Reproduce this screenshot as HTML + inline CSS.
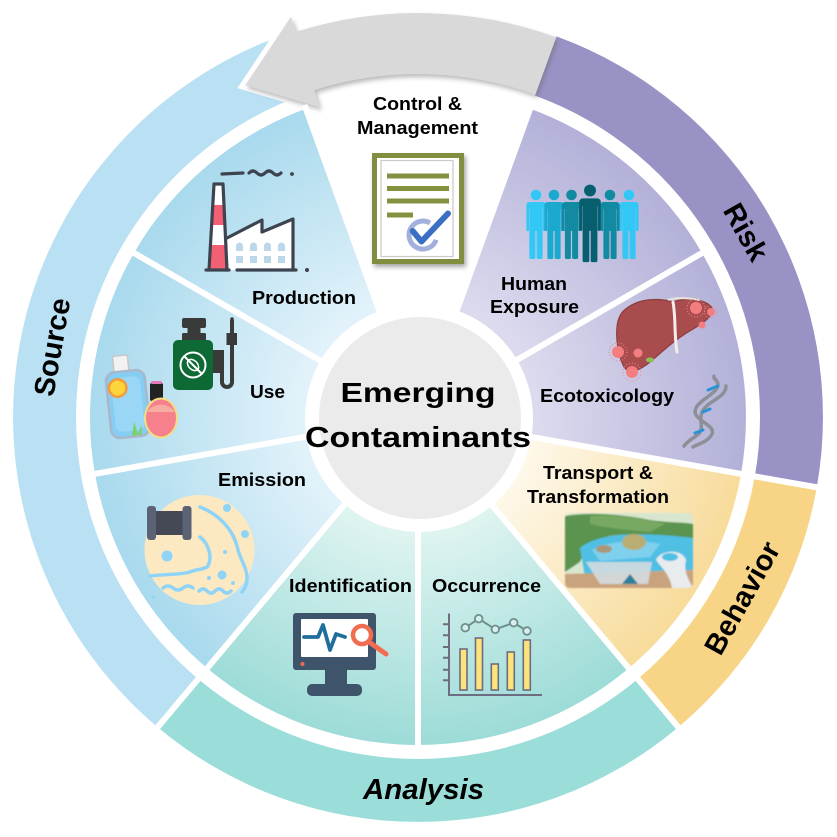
<!DOCTYPE html>
<html><head><meta charset="utf-8">
<style>
html,body{margin:0;padding:0;background:#fff;}
svg{display:block;}
text{font-family:"Liberation Sans",Arial,sans-serif;font-weight:bold;fill:#000;}
</style></head><body>
<svg width="837" height="837" viewBox="0 0 837 837" xmlns="http://www.w3.org/2000/svg">
<defs>
 <radialGradient id="gB" gradientUnits="userSpaceOnUse" cx="418" cy="417" r="330">
  <stop offset="0.35" stop-color="#e2f2fa"/><stop offset="1" stop-color="#a8d9ed"/>
 </radialGradient>
 <radialGradient id="gP" gradientUnits="userSpaceOnUse" cx="418" cy="417" r="330">
  <stop offset="0.35" stop-color="#dcdbee"/><stop offset="1" stop-color="#b2b0d8"/>
 </radialGradient>
 <radialGradient id="gY" gradientUnits="userSpaceOnUse" cx="418" cy="417" r="330">
  <stop offset="0.35" stop-color="#fef8ea"/><stop offset="1" stop-color="#f7db9a"/>
 </radialGradient>
 <radialGradient id="gT" gradientUnits="userSpaceOnUse" cx="418" cy="417" r="330">
  <stop offset="0.35" stop-color="#dff4f1"/><stop offset="1" stop-color="#9cdbd7"/>
 </radialGradient>
 <filter id="blur2" x="-20%" y="-20%" width="140%" height="140%"><feGaussianBlur stdDeviation="2.5"/></filter>
 <filter id="soft" x="-10%" y="-10%" width="120%" height="120%"><feGaussianBlur stdDeviation="0.9"/></filter>
 <clipPath id="tc"><rect x="565" y="513" width="128" height="75" rx="5"/></clipPath>
 <g id="pp">
  <circle cx="0" cy="0" r="5.3"/>
  <rect x="-9.6" y="7" width="19.2" height="7" rx="3.2"/>
  <rect x="-6.6" y="8" width="13.2" height="28"/>
  <rect x="-9.6" y="9" width="2.7" height="27" rx="1.3"/>
  <rect x="6.9" y="9" width="2.7" height="27" rx="1.3"/>
  <rect x="-6.6" y="33" width="6" height="31" rx="1.5"/>
  <rect x="0.6" y="33" width="6" height="31" rx="1.5"/>
 </g>
</defs>

<!-- outer ring: Source -->
<path d="M157.7,727.2 A405,405 0 0 1 313.2,25.8 L329.5,86.7 A342,342 0 0 0 198.2,679.0 Z" fill="#b9e0f3"/>

<!-- arrow white outline -->
<path d="M556.2,37.4 A404,404 0 0 0 295.8,31.9 L291.0,16.7 L245.3,85.3 L319.7,107.2 L314.3,90.1 A343,343 0 0 1 535.3,94.7 Z" fill="#fff" stroke="#fff" stroke-width="10" stroke-linejoin="miter"/>

<!-- Risk, Behavior, Analysis -->
<path d="M556.5,36.4 A405,405 0 0 1 816.8,487.3 L754.8,476.4 A342,342 0 0 0 535.0,95.6 Z" fill="#9993c5"/>
<path d="M816.8,487.3 A405,405 0 0 1 678.3,727.2 L637.8,679.0 A342,342 0 0 0 754.8,476.4 Z" fill="#f8d486"/>
<path d="M678.3,727.2 A405,405 0 0 1 157.7,727.2 L198.2,679.0 A342,342 0 0 0 637.8,679.0 Z" fill="#9bddd9"/>
<g stroke="#fff" stroke-width="6">
 <line x1="747.9" y1="475.2" x2="823.7" y2="488.5"/>
 <line x1="633.3" y1="673.6" x2="682.8" y2="732.6"/>
 <line x1="202.7" y1="673.6" x2="153.2" y2="732.6"/>
</g>

<!-- arrow shadow + fill -->
<path d="M556.2,37.4 A404,404 0 0 0 295.8,31.9 L291.0,16.7 L245.3,85.3 L319.7,107.2 L314.3,90.1 A343,343 0 0 1 535.3,94.7 Z" fill="#666" opacity="0.45" transform="translate(2,3)" filter="url(#blur2)"/>
<path d="M556.2,37.4 A404,404 0 0 0 295.8,31.9 L291.0,16.7 L245.3,85.3 L319.7,107.2 L314.3,90.1 A343,343 0 0 1 535.3,94.7 Z" fill="#d9d9d9"/>

<!-- inner sectors -->
<path d="M418,417 L530.2,108.8 A328,328 0 0 1 702.0,253.0 Z" fill="url(#gP)"/>
<path d="M418,417 L702.0,253.0 A328,328 0 0 1 741.0,473.9 Z" fill="url(#gP)"/>
<path d="M418,417 L741.0,473.9 A328,328 0 0 1 628.8,668.2 Z" fill="url(#gY)"/>
<path d="M418,417 L628.8,668.2 A328,328 0 0 1 418,745 Z" fill="url(#gT)"/>
<path d="M418,417 L418,745 A328,328 0 0 1 207.2,668.2 Z" fill="url(#gT)"/>
<path d="M418,417 L207.2,668.2 A328,328 0 0 1 95.0,473.9 Z" fill="url(#gB)"/>
<path d="M418,417 L95.0,473.9 A328,328 0 0 1 134.0,253.0 Z" fill="url(#gB)"/>
<path d="M418,417 L134.0,253.0 A328,328 0 0 1 305.8,108.8 Z" fill="url(#gB)"/>
<g stroke="#fff" stroke-width="6">
 <line x1="418" y1="417" x2="531.5" y2="105"/>
 <line x1="418" y1="417" x2="705.5" y2="251"/>
 <line x1="418" y1="417" x2="745.0" y2="474.6"/>
 <line x1="418" y1="417" x2="631.4" y2="671.3"/>
 <line x1="418" y1="417" x2="418" y2="749"/>
 <line x1="418" y1="417" x2="204.6" y2="671.3"/>
 <line x1="418" y1="417" x2="91.0" y2="474.6"/>
 <line x1="418" y1="417" x2="130.5" y2="251"/>
 <line x1="418" y1="417" x2="304.5" y2="105"/>
</g>

<!-- center -->
<circle cx="419" cy="418" r="114" fill="#fff"/>
<circle cx="420" cy="418" r="101" fill="#ebebeb"/>
<text x="418" y="402" font-size="28" text-anchor="middle" textLength="155" lengthAdjust="spacingAndGlyphs">Emerging</text>
<text x="418" y="447" font-size="29" text-anchor="middle" textLength="226" lengthAdjust="spacingAndGlyphs">Contaminants</text>

<!-- ring labels -->
<text transform="translate(52,347) rotate(-80)" x="0" y="10" font-size="29" text-anchor="middle" textLength="99" lengthAdjust="spacingAndGlyphs">Source</text>
<text transform="translate(746,232) rotate(60.6)" x="0" y="10" font-size="29" text-anchor="middle" textLength="61" lengthAdjust="spacingAndGlyphs">Risk</text>
<text transform="translate(742,598) rotate(-60.8)" x="0" y="10" font-size="29" text-anchor="middle" textLength="124" lengthAdjust="spacingAndGlyphs">Behavior</text>
<text x="423.5" y="799" font-size="29" font-style="italic" text-anchor="middle" textLength="121" lengthAdjust="spacingAndGlyphs">Analysis</text>

<!-- inner labels -->
<g font-size="18.5" text-anchor="middle">
 <text x="417.5" y="110" textLength="89" lengthAdjust="spacingAndGlyphs">Control &amp;</text>
 <text x="417.5" y="134" textLength="121" lengthAdjust="spacingAndGlyphs">Management</text>
 <text x="534" y="290" textLength="66" lengthAdjust="spacingAndGlyphs">Human</text>
 <text x="534.5" y="313" textLength="89" lengthAdjust="spacingAndGlyphs">Exposure</text>
 <text x="607" y="402" textLength="134" lengthAdjust="spacingAndGlyphs">Ecotoxicology</text>
 <text x="598" y="479" textLength="110" lengthAdjust="spacingAndGlyphs">Transport &amp;</text>
 <text x="598" y="503" textLength="142" lengthAdjust="spacingAndGlyphs">Transformation</text>
 <text x="486.5" y="592" textLength="109" lengthAdjust="spacingAndGlyphs">Occurrence</text>
 <text x="350.5" y="592" textLength="123" lengthAdjust="spacingAndGlyphs">Identification</text>
 <text x="262" y="486" textLength="88" lengthAdjust="spacingAndGlyphs">Emission</text>
 <text x="267.5" y="398" textLength="35" lengthAdjust="spacingAndGlyphs">Use</text>
 <text x="304" y="304" textLength="104" lengthAdjust="spacingAndGlyphs">Production</text>
</g>

<!-- Control document icon -->
<rect x="374" y="156" width="92" height="111" fill="#000" opacity=".35" filter="url(#blur2)"/>
<rect x="372" y="153" width="92" height="111" fill="#818d3f"/>
<rect x="377" y="158" width="82" height="101" fill="#fff"/>
<rect x="381" y="160.5" width="72" height="96" fill="#fff" stroke="#c9c9c9" stroke-width="1.2"/>
<g fill="#86913f">
 <rect x="387" y="173.5" width="62" height="5"/>
 <rect x="387" y="186" width="62" height="5"/>
 <rect x="387" y="198.5" width="62" height="5"/>
 <rect x="387" y="212.5" width="26" height="5"/>
</g>
<path d="M430,222.9 A14,14 0 1 0 436.2,239.8" fill="none" stroke="#a3b0de" stroke-width="5"/>
<polyline points="412.7,231 421.5,241.5 448,213.5" fill="none" stroke="#3b6fc4" stroke-width="6" stroke-linejoin="round" stroke-linecap="round"/>

<!-- Factory icon -->
<g stroke="#3d4450" stroke-width="3.2" fill="none" stroke-linecap="round" stroke-linejoin="round">
 <path d="M222,174 L243,173"/>
 <path d="M249,173 q4,-4 8,0 t8,0 t8,0 t8,0"/>
</g>
<circle cx="292" cy="174" r="1.9" fill="#3d4450"/>
<path d="M226,238 L262,220 L262,232 L293,219 L293,270 L226,270 Z" fill="#fff"/>
<path d="M214,184 L223,184 L227,270 L209,270 Z" fill="#fff"/>
<polygon points="212.8,205 224.0,205 224.9,225 211.6,225" fill="#f35f73"/>
<polygon points="210.5,245 225.8,245 227,270 209,270" fill="#f35f73"/>
<g fill="#bcd6ea">
 <path d="M236,251 v-5 a3.5,3.5 0 0 1 7,0 v5 z"/>
 <path d="M250,251 v-5 a3.5,3.5 0 0 1 7,0 v5 z"/>
 <path d="M264,251 v-5 a3.5,3.5 0 0 1 7,0 v5 z"/>
 <path d="M278,251 v-5 a3.5,3.5 0 0 1 7,0 v5 z"/>
 <rect x="236" y="256" width="7" height="7"/>
 <rect x="250" y="256" width="7" height="7"/>
 <rect x="264" y="256" width="7" height="7"/>
 <rect x="278" y="256" width="7" height="7"/>
</g>
<g stroke="#3d4450" stroke-width="3.2" fill="none" stroke-linecap="round" stroke-linejoin="round">
 <path d="M214,184 L223,184 L227,270 M214,184 L209,270"/>
 <path d="M227,238 L262,220 L262,232 L293,219 L293,270"/>
 <path d="M206,270 L229,270 M237,270 L296,270"/>
</g>
<circle cx="307" cy="270" r="2" fill="#3d4450"/>

<!-- Use: spray bottle -->
<rect x="182" y="318" width="24" height="10" rx="2" fill="#3a3a3a"/>
<rect x="187.5" y="327" width="13" height="7" fill="#3a3a3a"/>
<rect x="182" y="333" width="24" height="8" rx="1.5" fill="#3a3a3a"/>
<rect x="173" y="340" width="40" height="50" rx="5" fill="#0d6a35"/>
<circle cx="193" cy="365" r="12.5" fill="none" stroke="#fff" stroke-width="2"/>
<line x1="184.5" y1="356.5" x2="201.5" y2="373.5" stroke="#fff" stroke-width="2"/>
<ellipse cx="193" cy="365" rx="4.5" ry="6.5" transform="rotate(-45 193 365)" fill="none" stroke="#fff" stroke-width="1.5"/>
<rect x="213" y="350" width="11" height="23" fill="#3a3a3a"/>
<path d="M222,372 v10 a5,5 0 0 0 10,0 v-38" fill="none" stroke="#3a3a3a" stroke-width="4"/>
<rect x="226.5" y="333" width="10.5" height="12" fill="#3a3a3a"/>
<rect x="230" y="320" width="4" height="14" fill="#3a3a3a"/>
<circle cx="232" cy="319" r="1.8" fill="#3a3a3a"/>

<!-- Use: sunscreen bottle -->
<g transform="rotate(-6 128 400)">
 <rect x="117" y="355" width="15" height="18" rx="2" fill="#f2f2f2" stroke="#c6c6c6" stroke-width="1.5"/>
 <rect x="108" y="371" width="39" height="66" rx="9" fill="#84cdf3" stroke="#a9b7ca" stroke-width="2.5"/>
 <rect x="113" y="377" width="29" height="54" rx="6" fill="#9ad7f6"/>
 <circle cx="119" cy="387" r="10" fill="#f59a3a"/>
 <circle cx="119" cy="387" r="7.5" fill="#fcd43b"/>
 <path d="M128,436 l4,-14 l2,13 l5,-9 l-1,10 z" fill="#7fcf6a"/>
</g>
<!-- perfume -->
<rect x="150" y="383" width="13" height="18" rx="2" fill="#222"/>
<rect x="151" y="381" width="11" height="3" rx="1.5" fill="#e57ab8"/>
<ellipse cx="161" cy="418" rx="16" ry="19.5" fill="#f6818d" stroke="#f1de84" stroke-width="2"/>
<path d="M147,412 a16,14 0 0 1 28,0 z" fill="#f9c9b0" opacity="0.6"/>

<!-- Human exposure figures -->
<use href="#pp" transform="translate(536,195)" fill="#33c7f5"/>
<use href="#pp" transform="translate(629,195)" fill="#33c7f5"/>
<use href="#pp" transform="translate(554,195)" fill="#1ba9cf"/>
<use href="#pp" transform="translate(571.5,195)" fill="#128ba2"/>
<use href="#pp" transform="translate(610,195)" fill="#128ba2"/>
<use href="#pp" transform="translate(590,190.5) scale(1.12)" fill="#075e6e"/>

<!-- Ecotox: liver -->
<path d="M627,308 C640,298 660,298 673,302 C686,297 706,299 712,308 C714,318 698,326 688,332 C672,342 662,352 650,362 C640,370 630,375 624,367 C616,352 615,328 619,318 C621,313 623,311 627,308 Z" fill="#a94c4e" stroke="#8f3c3e" stroke-width="1.2"/>
<path d="M673,302 C676,318 674,335 677,352" fill="none" stroke="#f3efe8" stroke-width="3" stroke-linecap="round"/>
<path d="M668,300 C676,297 690,298 700,300" fill="none" stroke="#e9e4dc" stroke-width="2"/>
<ellipse cx="650" cy="360" rx="4" ry="2.5" fill="#8fbf5a"/>
<g fill="#f47d80">
 <circle cx="618" cy="352" r="6"/>
 <circle cx="638" cy="353" r="4.5"/>
 <circle cx="632" cy="372" r="6"/>
 <circle cx="696" cy="308" r="6"/>
 <circle cx="711" cy="312" r="4"/>
 <circle cx="702" cy="325" r="3.5"/>
</g>
<g fill="none" stroke="#f08a8a" stroke-width="1" stroke-dasharray="1 2">
 <circle cx="618" cy="352" r="9"/>
 <circle cx="632" cy="372" r="9"/>
 <circle cx="696" cy="308" r="9"/>
 <circle cx="711" cy="312" r="6.5"/>
</g>
<!-- DNA -->
<g fill="none" stroke-linecap="round">
 <path d="M714,378 C728,390 700,398 696,408 C690,420 716,424 712,434 C708,442 698,444 693,447" stroke="#8c9096" stroke-width="3.5"/>
 <path d="M726,386 C726,398 708,400 702,412 C698,422 706,430 696,436 C690,440 686,443 684,446" stroke="#8c9096" stroke-width="3.5"/>
 <path d="M708,390 L718,386 M703,412 L710,409 M695,433 L703,430" stroke="#2a93d5" stroke-width="3"/>
</g>
<circle cx="714" cy="376" r="1.6" fill="#8c9096"/>

<!-- Transport image -->
<g filter="url(#soft)">
 <g clip-path="url(#tc)">
  <rect x="565" y="513" width="128" height="75" fill="#d9e6cf"/>
  <path d="M565,516 C590,512 620,514 650,520 C670,523 685,522 693,524 L693,540 C670,538 640,532 610,536 C595,540 585,550 580,562 L565,572 Z" fill="#5a944f"/>
  <path d="M590,516 C615,514 640,518 665,524 L650,532 C630,530 605,528 590,524 Z" fill="#78a962"/>
  <path d="M580,548 C600,532 640,532 693,538 L693,578 L585,578 Z" fill="#4fbfe4"/>
  <path d="M592,550 C610,540 640,539 660,544 L650,557 L600,561 Z" fill="#7fd0ec"/>
  <ellipse cx="634" cy="542" rx="12" ry="8" fill="#b9ad72"/>
  <ellipse cx="604" cy="549" rx="8" ry="4" fill="#a89878"/>
  <path d="M565,574 L693,570 L693,588 L565,588 Z" fill="#c9a37d"/>
  <path d="M586,562 L652,562 L648,584 L600,584 Z" fill="#d3dbe0" opacity=".9"/>
  <path d="M656,560 C660,550 682,548 686,560 C683,572 690,582 693,588 L672,588 C670,575 662,568 656,560 Z" fill="#e8ecef"/>
  <ellipse cx="670" cy="557" rx="8" ry="4" fill="#4fbfe4"/>
  <path d="M622,584 L630,574 L638,584 Z" fill="#2f7f9a"/>
 </g>
</g>

<!-- Occurrence chart -->
<g stroke="#6e6c80" stroke-width="2" fill="none">
 <path d="M449,613.5 V695 H542"/>
 <path d="M443,624.3 h6 M443,635.3 h6 M443,647 h6 M443,657.7 h6 M443,669.7 h6 M443,680.3 h6"/>
</g>
<g fill="#fde37c" stroke="#6e6c80" stroke-width="1.6">
 <rect x="460" y="649" width="7" height="41"/>
 <rect x="475.5" y="638" width="7" height="52"/>
 <rect x="491.3" y="664" width="7" height="26"/>
 <rect x="507.3" y="652" width="7" height="38"/>
 <rect x="523.3" y="640" width="7" height="50"/>
</g>
<polyline points="465.3,627.7 478.7,618.7 495.3,629.3 513.7,622.7 527,631" fill="none" stroke="#6f8f8c" stroke-width="2"/>
<g fill="#d7efec" stroke="#6f8f8c" stroke-width="1.8">
 <circle cx="465.3" cy="627.7" r="3.8"/>
 <circle cx="478.7" cy="618.7" r="3.8"/>
 <circle cx="495.3" cy="629.3" r="3.8"/>
 <circle cx="513.7" cy="622.7" r="3.8"/>
 <circle cx="527" cy="631" r="3.8"/>
</g>

<!-- Identification monitor -->
<rect x="293" y="613" width="83" height="57" rx="3" fill="#3d546b"/>
<rect x="301" y="619" width="67" height="38" rx="1" fill="#fff"/>
<rect x="325" y="669" width="22" height="16" fill="#3d546b"/>
<rect x="307" y="684" width="55" height="12" rx="5" fill="#3d546b"/>
<circle cx="302.5" cy="664" r="2" fill="#f26d50"/>
<polyline points="304,637 318,637 323,625 330,650 336,634 345,637" stroke="#1f6e9e" stroke-width="3.8" fill="none" stroke-linejoin="round" stroke-linecap="round"/>
<circle cx="362" cy="635" r="9" fill="#fff" stroke="#f26d50" stroke-width="4.5"/>
<line x1="369" y1="642" x2="386" y2="654" stroke="#f26d50" stroke-width="5" stroke-linecap="round"/>

<!-- Emission -->
<circle cx="199.5" cy="550" r="55" fill="#fde9c1"/>
<rect x="153" y="511" width="32" height="24" fill="#444955"/>
<rect x="147" y="506" width="9" height="34" rx="3" fill="#5b6273"/>
<rect x="182.5" y="506" width="9" height="34" rx="3" fill="#5b6273"/>
<g fill="none" stroke="#8fd4f7" stroke-width="3.5" stroke-linecap="round">
 <path d="M200,507 C218,514 232,528 237,546 C240,560 247,567 247,578 C247,585 244,590 242,592"/>
 <path d="M200,537 C210,545 212,558 208,566 C204,570 196,569 190,572 C180,575 165,574 150,576"/>
 <path d="M163,588 q5,-4 10,0 t10,0 t10,0"/>
 <path d="M199,591 q4,-4 8,0 t8,0 t8,0 t8,0"/>
</g>
<g fill="#8fd4f7">
 <circle cx="227" cy="508" r="4"/>
 <circle cx="245" cy="534" r="4"/>
 <circle cx="167" cy="556" r="5.5"/>
 <circle cx="225" cy="552" r="2"/>
 <circle cx="222" cy="575" r="4.5"/>
 <circle cx="209" cy="578" r="2"/>
 <circle cx="153" cy="597" r="1.5"/>
 <circle cx="233" cy="583" r="2"/>
</g>
</svg>
</body></html>
